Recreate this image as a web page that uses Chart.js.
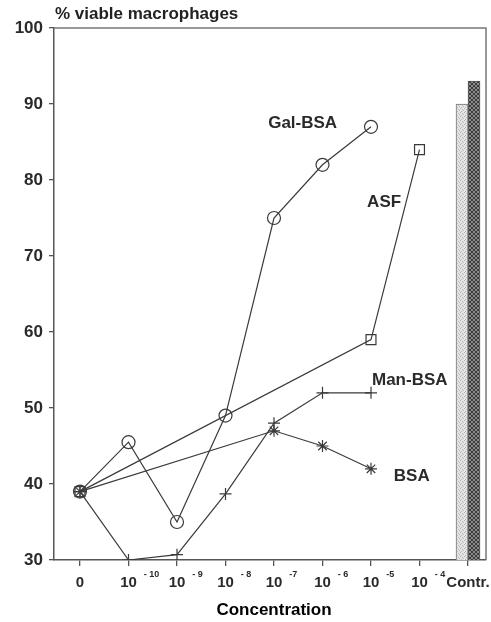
<!DOCTYPE html>
<html><head><meta charset="utf-8">
<script src="https://cdn.jsdelivr.net/npm/chart.js@4.4.1/dist/chart.umd.min.js"></script>
<style>html,body{margin:0;padding:0;background:#fff;}canvas{display:block}</style>
</head><body>
<canvas id="c" width="491" height="622"></canvas>
<script>
// ---- data ----
const tickBase = ['0', '10', '10', '10', '10', '10', '10', '10', 'Contr.'];
const tickExp  = ['', '- 10', '- 9', '- 8', '-7', '- 6', '-5', '- 4', ''];
const galBSA = [39, 45.5, 35, 49, 75, 82, 87, null, null];
const asf    = [39, null, null, null, null, null, 59, 84, null];
const manBSA = [39, 30, 30.7, 38.7, 48, 52, 52, null, null];
const bsa    = [39, null, null, null, 47, 45, 42, null, null];
const controlLight = 90;
const controlDark = 93;
const yTicks = [30, 40, 50, 60, 70, 80, 90, 100];
const seriesNames = ['Gal-BSA', 'ASF', 'Man-BSA', 'BSA'];

// ---- layout (not data) ----
const seriesLabelPos = [[3.88, 87.5], [5.92, 77], [6.02, 53.7], [6.47, 41.05]];
const FONT = '"Liberation Sans", Arial, Helvetica, sans-serif';
const LINE = '#3a3a3a';

function pts(arr) {
  return arr.map((v, i) => v == null ? null : {x: i, y: v}).filter(Boolean);
}
function makePattern(kind) {
  const c = document.createElement('canvas');
  c.width = 4; c.height = 4;
  const g = c.getContext('2d');
  if (kind === 'light') {
    g.fillStyle = '#e6e6e6'; g.fillRect(0, 0, 4, 4);
    g.fillStyle = '#b5b5b5';
    g.fillRect(0, 0, 1, 1); g.fillRect(2, 1, 1, 1); g.fillRect(1, 3, 1, 1); g.fillRect(3, 2, 1, 1);
  } else {
    g.fillStyle = '#8a8a8a'; g.fillRect(0, 0, 4, 4);
    g.fillStyle = '#3c3c3c';
    for (let i = 0; i < 4; i++) { g.fillRect(i, i, 1, 1); g.fillRect(3 - i, i, 1, 1); }
  }
  return g.createPattern(c, 'repeat');
}

const lineBase = {
  type: 'line', borderColor: LINE, borderWidth: 1.2, backgroundColor: 'rgba(0,0,0,0)',
  pointBorderColor: LINE, pointBackgroundColor: 'rgba(0,0,0,0)', pointBorderWidth: 1.2,
  tension: 0, fill: false
};

const annot = {
  id: 'annot',
  afterDraw(chart) {
    const {ctx, chartArea: a, scales: {x, y}} = chart;
    ctx.save();
    // frame top/right
    ctx.strokeStyle = '#777'; ctx.lineWidth = 1.5;
    ctx.beginPath(); ctx.moveTo(a.left, a.top); ctx.lineTo(a.right, a.top); ctx.lineTo(a.right, a.bottom); ctx.stroke();
    // x tick labels with superscripts
    ctx.fillStyle = '#2a2a2a'; ctx.textBaseline = 'alphabetic';
    x.ticks.forEach((t, i) => {
      const px = x.getPixelForValue(t.value);
      ctx.font = 'bold 15px ' + FONT; ctx.textAlign = 'center';
      ctx.fillText(tickBase[i], px, a.bottom + 27);
      if (tickExp[i]) {
        const w = ctx.measureText(tickBase[i]).width;
        ctx.font = 'bold 9px ' + FONT; ctx.textAlign = 'left';
        ctx.fillText(tickExp[i], px + w / 2 + 7, a.bottom + 17);
      }
    });
    ctx.textBaseline = 'middle';
    ctx.fillStyle = '#222'; ctx.textAlign = 'left';
    ctx.font = 'bold 17px ' + FONT;
    ctx.fillText('% viable macrophages', a.left + 1, 14);
    ctx.fillStyle = '#000'; ctx.textAlign = 'center';
    ctx.font = 'bold 17px ' + FONT;
    ctx.fillText('Concentration', x.getPixelForValue(4), 610);
    ctx.fillStyle = '#2a2a2a'; ctx.textAlign = 'left';
    ctx.font = 'bold 17px ' + FONT;
    seriesNames.forEach((n, i) => {
      const p = seriesLabelPos[i];
      ctx.fillText(n, x.getPixelForValue(p[0]), y.getPixelForValue(p[1]));
    });
    ctx.restore();
  }
};

const chart = new Chart(document.getElementById('c'), {
  type: 'bar',
  data: {
    datasets: [
      Object.assign({}, lineBase, {label: seriesNames[0], data: pts(galBSA), pointStyle: 'circle', pointRadius: 6.5}),
      Object.assign({}, lineBase, {label: seriesNames[1], data: pts(asf), pointStyle: 'rect', pointRadius: 7}),
      Object.assign({}, lineBase, {label: seriesNames[2], data: pts(manBSA), pointStyle: 'cross', pointRadius: 6}),
      Object.assign({}, lineBase, {label: seriesNames[3], data: pts(bsa), pointStyle: 'star', pointRadius: 6}),
      {type: 'bar', label: 'Control 1', data: [{x: 8, y: controlLight}], backgroundColor: makePattern('light'),
       borderColor: '#777', borderWidth: 1, barThickness: 12, borderSkipped: 'bottom'},
      {type: 'bar', label: 'Control 2', data: [{x: 8, y: controlDark}], backgroundColor: makePattern('dark'),
       borderColor: '#555', borderWidth: 1, barThickness: 12, borderSkipped: 'bottom'}
    ]
  },
  options: {
    responsive: false, animation: false, devicePixelRatio: 1,
    layout: {autoPadding: false, padding: {top: 28, right: 5, left: 0, bottom: 0}},
    plugins: {legend: {display: false}, tooltip: {enabled: false}, title: {display: false}},
    scales: {
      x: {
        type: 'linear', min: -0.536, max: 8.371, offset: false,
        afterBuildTicks(s) { s.ticks = tickBase.map((c, i) => ({value: i})); },
        afterFit(s) { s.height = 62; },
        ticks: {display: false, autoSkip: false, maxRotation: 0},
        grid: {offset: false, drawOnChartArea: false, drawTicks: true, tickLength: 6, color: '#555', lineWidth: 1.3},
        border: {display: true, color: '#555', width: 1.5}
      },
      y: {
        type: 'linear', min: 30, max: 100,
        afterBuildTicks(s) { s.ticks = yTicks.map(v => ({value: v})); },
        afterFit(s) { s.width = 54; },
        ticks: {padding: 6, color: '#2a2a2a', font: {family: FONT, size: 17, weight: 'bold'}},
        grid: {drawOnChartArea: false, drawTicks: true, tickLength: 5, color: '#555', lineWidth: 1.3},
        border: {display: true, color: '#555', width: 1.5}
      }
    }
  },
  plugins: [annot]
});
</script>
</body></html>
